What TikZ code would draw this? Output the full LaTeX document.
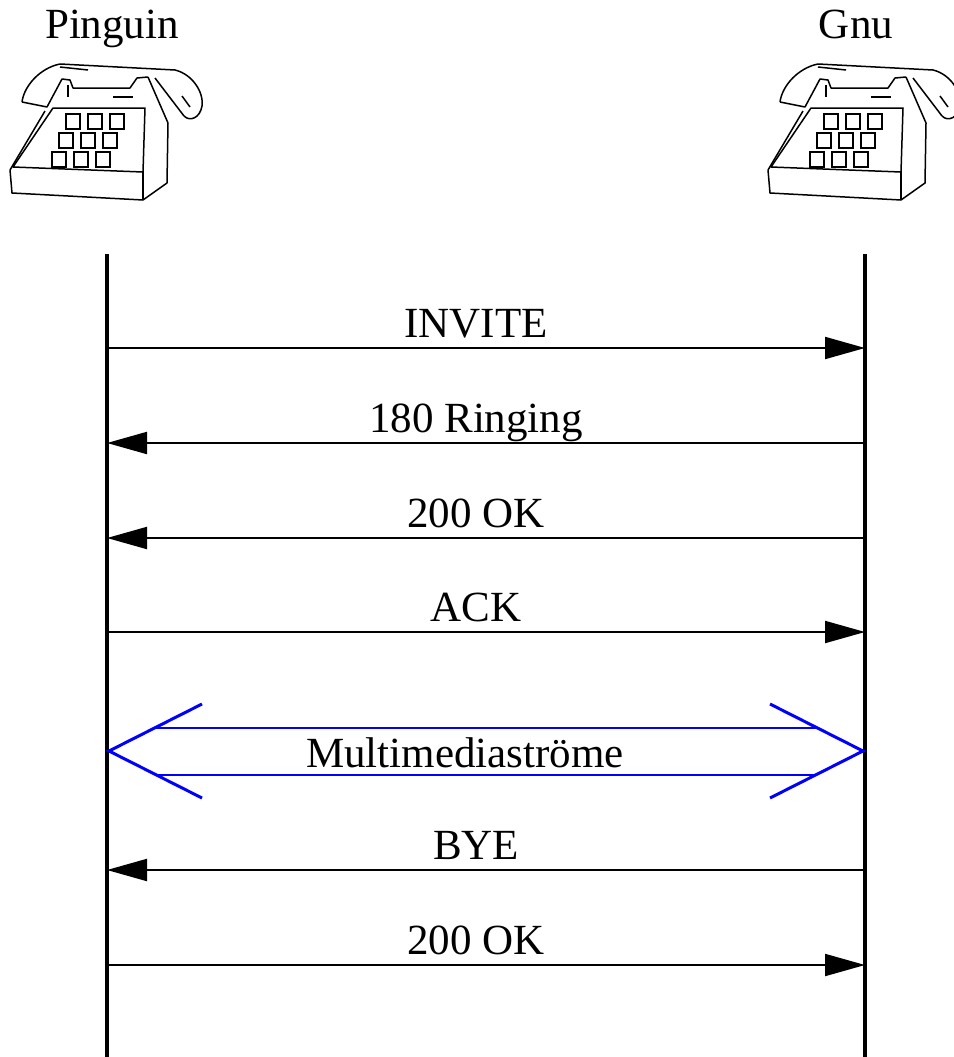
\documentclass[tikz,border=0pt]{standalone}
\usepackage{fontspec}
\setmainfont{Liberation Serif}
\usetikzlibrary{arrows.meta,calc,positioning}
\definecolor{media}{RGB}{0,0,255}

\tikzset{
  phone/.pic={
    % handset
    \draw[phoneline] (22,102) .. controls (24,86) and (40,68) .. (60,64) -- (175,70)
      .. controls (192,74) and (204,92) .. (202,106) .. controls (200,118) and (190,122) .. (184,116);
    \draw[phoneline] (22,102) -- (47,107) -- (62,79) -- (70,80) -- (73,88) -- (130,88) -- (137,78) -- (148,77);
    \draw[phoneline] (60,67) -- (88,70);
    \draw[phoneline] (148,77) -- (168,123);
    \draw[phoneline] (155,78) -- (184,116);
    \draw[phoneline] (182,96) -- (190,107);
    \draw[phoneline] (113,97) -- (133,97);
    \draw[phoneline] (68,85) -- (68,97);
    % body
    \draw[phoneline] (53,108) -- (145,108) -- (143,172) -- (13,167) -- cycle;
    \draw[phoneline] (45,111) -- (10,170);
    \draw[phoneline] (10,170) -- (12,193) -- (143,200) -- (167,183) -- (168,123);
    \draw[phoneline] (143,172) -- (143,200);
    % keypad
    \foreach \r in {0,1,2}
      \foreach \c in {0,1,2}
        \draw[keyline] (66+22*\c-7*\r,114+19*\r) rectangle ++(14,15);
  }
}

\begin{document}
\begin{tikzpicture}[
    x=1pt, y=-1pt,
    phoneline/.style={line width=1.5pt, line join=round},
    keyline/.style={line width=1.9pt},
    party/.style={anchor=base, inner sep=0pt, font=\fontsize{43}{50}\selectfont},
    msglabel/.style={anchor=base, inner sep=0pt, yshift=11pt, xshift=-10pt, font=\fontsize{43}{50}\selectfont},
    lifeline/.style={line width=4pt},
    msg/.style={line width=2pt},
    msgr/.style={msg, -{Triangle[length=40pt,width=22pt]}},
    msgl/.style={msg, {Triangle[length=40pt,width=22pt]}-},
    mediabarb/.style={draw=media, line width=3pt, line join=miter},
    medialine/.style={draw=media, line width=2pt}
  ]
  \useasboundingbox (0,0) rectangle (953,1057);

  % participants
  \node[party] (pinguin) at (112,38) {Pinguin};
  \node[party] (gnu) at (856,38) {Gnu};
  \pic at (0,0) {phone};
  \pic at (758,0) {phone};

  % lifelines
  \coordinate (ptop) at (107,254);
  \coordinate (pbot) at (107,1057);
  \coordinate (gtop) at (865,254);
  \coordinate (gbot) at (865,1057);
  \draw[lifeline] (ptop) -- (pbot);
  \draw[lifeline] (gtop) -- (gbot);

  % messages
  \foreach \n/\y/\txt/\dir in {1/348/INVITE/msgr, 2/443/180 Ringing/msgl,
      3/538/200 OK/msgl, 4/632/ACK/msgr, 5/870/BYE/msgl, 6/965/200 OK/msgr} {
    \coordinate (p\n) at (107,\y);
    \coordinate (g\n) at (865,\y);
    \draw[\dir] (p\n) -- node[msglabel] (m\n) {\txt} (g\n);
  }

  % media streams
  \coordinate (mp) at (109,751);
  \coordinate (mg) at (863,751);
  \coordinate (mpu) at (202,704);
  \coordinate (mpd) at (202,798);
  \coordinate (mgu) at (770,704);
  \coordinate (mgd) at (770,798);
  \draw[mediabarb] (mpu) -- (mp) -- (mpd);
  \draw[mediabarb] (mgu) -- (mg) -- (mgd);
  \draw[medialine] ($(mp)!.5!(mpu)$) -- ($(mg)!.5!(mgu)$);
  \draw[medialine] ($(mp)!.5!(mpd)$) -- ($(mg)!.5!(mgd)$);
  \node[party] (media) at (465,767) {Multimediaströme};
\end{tikzpicture}
\end{document}
